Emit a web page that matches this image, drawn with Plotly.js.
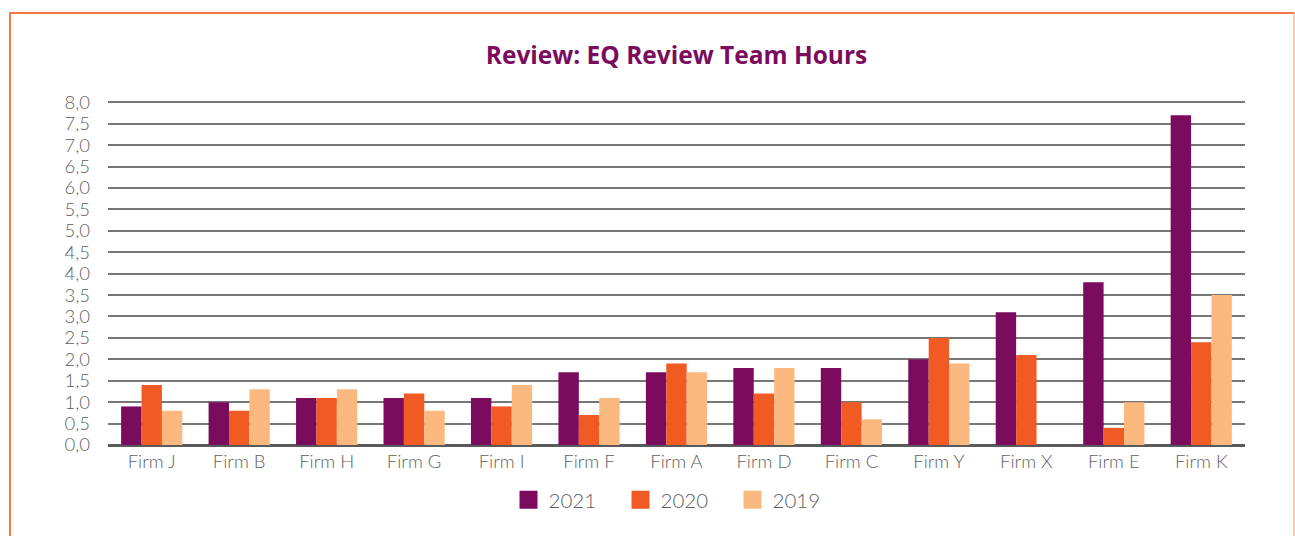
<!DOCTYPE html>
<html>
<head>
<meta charset="utf-8">
<script src="https://cdn.plot.ly/plotly-3.0.1.min.js"></script>
<style>
  html, body { margin: 0; padding: 0; background: #fff; }
  #wrap { position: relative; width: 1295px; height: 536px; overflow: hidden; }
  #chart { width: 1295px; height: 536px; }
  #frame { position: absolute; left: 9px; top: 12px; width: 1282px; height: 600px;
           border: 2px solid #F47A4A; border-right-color: #FBC9B2; pointer-events: none; }
</style>
</head>
<body>
<div id="wrap">
  <div id="chart"></div>
  <div id="frame"></div>
</div>
<script>
const firms = ["Firm J","Firm B","Firm H","Firm G","Firm I","Firm F","Firm A","Firm D","Firm C","Firm Y","Firm X","Firm E","Firm K"];
const hours2021 = [0.9, 1.0, 1.1, 1.1, 1.1, 1.7, 1.7, 1.8, 1.8, 2.0, 3.1, 3.8, 7.7];
const hours2020 = [1.4, 0.8, 1.1, 1.2, 0.9, 0.7, 1.9, 1.2, 1.0, 2.5, 2.1, 0.4, 2.4];
const hours2019 = [0.8, 1.3, 1.3, 0.8, 1.4, 1.1, 1.7, 1.8, 0.6, 1.9, null, 1.0, 3.5];
const yTicks = [0, 0.5, 1, 1.5, 2, 2.5, 3, 3.5, 4, 4.5, 5, 5.5, 6, 6.5, 7, 7.5, 8];

const traces = [
  {type: 'bar', name: '2021', x: firms, y: hours2021, marker: {color: '#7B0C5D'}},
  {type: 'bar', name: '2020', x: firms, y: hours2020, marker: {color: '#F15A22'}},
  {type: 'bar', name: '2019', x: firms, y: hours2019, marker: {color: '#FBB97F'}}
];

const layout = {
  width: 1295, height: 536,
  margin: {l: 108, r: 50, t: 101, b: 91},
  paper_bgcolor: '#ffffff', plot_bgcolor: '#ffffff',
  separators: ', ',
  font: {family: 'Lato, sans-serif', color: '#5f5f5f'},
  title: {
    text: '<b>Review: EQ Review Team Hours</b>',
    font: {family: '"Open Sans", sans-serif', size: 24.5, color: '#7B0C5D'},
    x: 0.5, xref: 'paper', xanchor: 'center',
    y: 1 - 55/536, yref: 'container', yanchor: 'middle'
  },
  barmode: 'group', bargap: 0.3, bargroupgap: 0,
  xaxis: {
    type: 'category', showgrid: false, showline: false, ticks: '',
    tickfont: {size: 18.5, color: '#5f5f5f', weight: 300}, ticklabelstandoff: 3
  },
  yaxis: {
    range: [0, 8.03], tickvals: yTicks, tickformat: '.1f',
    showgrid: true, gridcolor: '#777777', gridwidth: 2,
    zeroline: true, zerolinecolor: '#5a5a5a', zerolinewidth: 3,
    showline: false, ticks: '',
    tickfont: {size: 18.5, color: '#5f5f5f', weight: 300}, ticklabelstandoff: 17
  },
  legend: {
    orientation: 'h', x: 0.5, xanchor: 'center', y: -0.16, yanchor: 'middle',
    font: {size: 20.5, color: '#5f5f5f', weight: 300},
    itemwidth: 30, entrywidth: 67, entrywidthmode: 'pixels', traceorder: 'normal'
  },
  showlegend: true
};

Plotly.newPlot('chart', traces, layout, {displayModeBar: false, staticPlot: true}).then(function (gd) {
  gd.querySelectorAll('.legend .legendpoints path').forEach(function (p) {
    p.setAttribute('d', 'M9,9H-9V-9H9Z');
    p.style.strokeWidth = '0px';
  });
});
</script>
</body>
</html>
